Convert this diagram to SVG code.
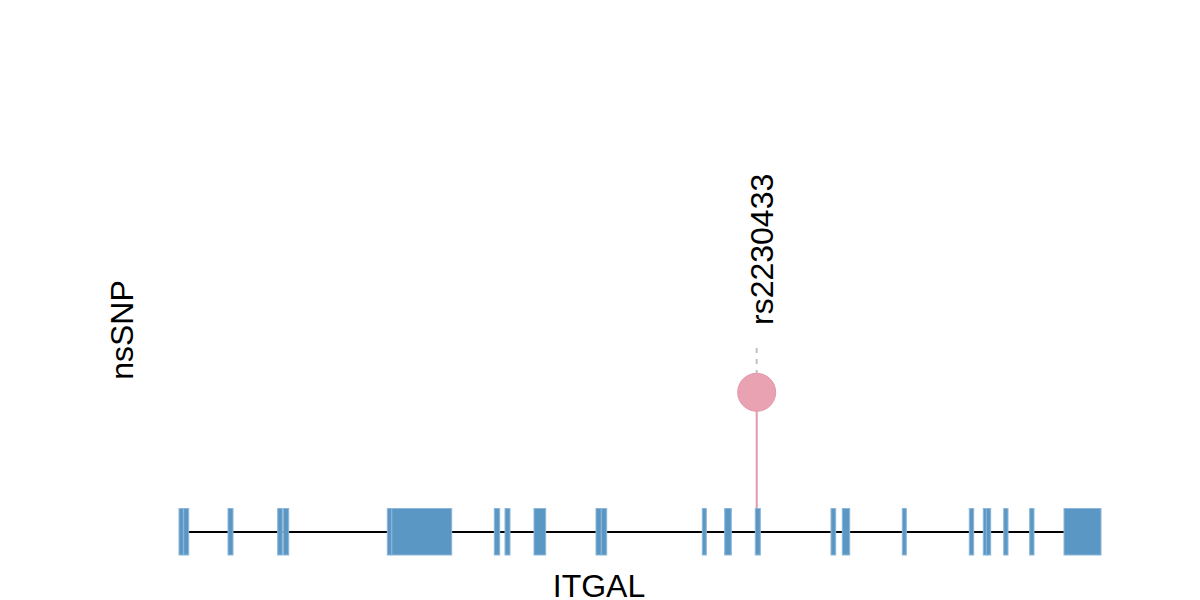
<svg xmlns="http://www.w3.org/2000/svg" width="1200" height="600" viewBox="0 0 1200 600">
<style>
.exon{fill:#5b97c4;stroke:#8cb7d8;stroke-width:1}
.lbl{font-family:"Liberation Sans",Arial,sans-serif;font-size:32px;fill:#000}
</style>
<rect width="1200" height="600" fill="#fff"/>
<g id="connectors">
<line x1="180" y1="532" x2="1064" y2="532" stroke="#000" stroke-width="2"/>
<line x1="756.7" y1="411" x2="756.7" y2="532" stroke="#e497aa" stroke-width="2"/>
<line x1="756.7" y1="348" x2="756.7" y2="373" stroke="#c0c0c0" stroke-width="2" stroke-dasharray="5,6"/>
</g>
<g id="exons">
<rect class="exon" x="179" y="508.5" width="4.3" height="46.5"/>
<rect class="exon" x="183.7" y="508.5" width="5" height="46.5"/>
<rect class="exon" x="228" y="508.5" width="5" height="46.5"/>
<rect class="exon" x="277.7" y="508.5" width="4.6" height="46.5"/>
<rect class="exon" x="283.3" y="508.5" width="5.4" height="46.5"/>
<rect class="exon" x="387.3" y="508.5" width="4.5" height="46.5"/>
<rect class="exon" x="391.8" y="508.5" width="59.9" height="46.5"/>
<rect class="exon" x="494.3" y="508.5" width="5.4" height="46.5"/>
<rect class="exon" x="505" y="508.5" width="5" height="46.5"/>
<rect class="exon" x="534" y="508.5" width="11.7" height="46.5"/>
<rect class="exon" x="596" y="508.5" width="5.3" height="46.5"/>
<rect class="exon" x="601.3" y="508.5" width="5.4" height="46.5"/>
<rect class="exon" x="702.3" y="508.5" width="4" height="46.5"/>
<rect class="exon" x="724.7" y="508.5" width="6.6" height="46.5"/>
<rect class="exon" x="755.3" y="508.5" width="5" height="46.5"/>
<rect class="exon" x="831" y="508.5" width="4.7" height="46.5"/>
<rect class="exon" x="842.3" y="508.5" width="7.4" height="46.5"/>
<rect class="exon" x="902.3" y="508.5" width="4" height="46.5"/>
<rect class="exon" x="969.3" y="508.5" width="4.4" height="46.5"/>
<rect class="exon" x="983.3" y="508.5" width="4" height="46.5"/>
<rect class="exon" x="986.3" y="508.5" width="4.4" height="46.5"/>
<rect class="exon" x="1003.7" y="508.5" width="4.3" height="46.5"/>
<rect class="exon" x="1029.7" y="508.5" width="4.3" height="46.5"/>
<rect class="exon" x="1064" y="508.5" width="37" height="46.5"/>
</g>
<g id="snp">
<line x1="756.7" y1="392.3" x2="756.7" y2="411" stroke="#e497aa" stroke-width="2"/>
<circle cx="756.7" cy="392.3" r="19" fill="#e9a2b2" stroke="#e497aa" stroke-width="1"/>
<text class="lbl" transform="translate(773,325) rotate(-90)">rs2230433</text>
</g>
<g id="labels">
<text class="lbl" x="599" y="597" text-anchor="middle">ITGAL</text>
<text class="lbl" transform="translate(133,330) rotate(-90)" text-anchor="middle">nsSNP</text>
</g>
</svg>
